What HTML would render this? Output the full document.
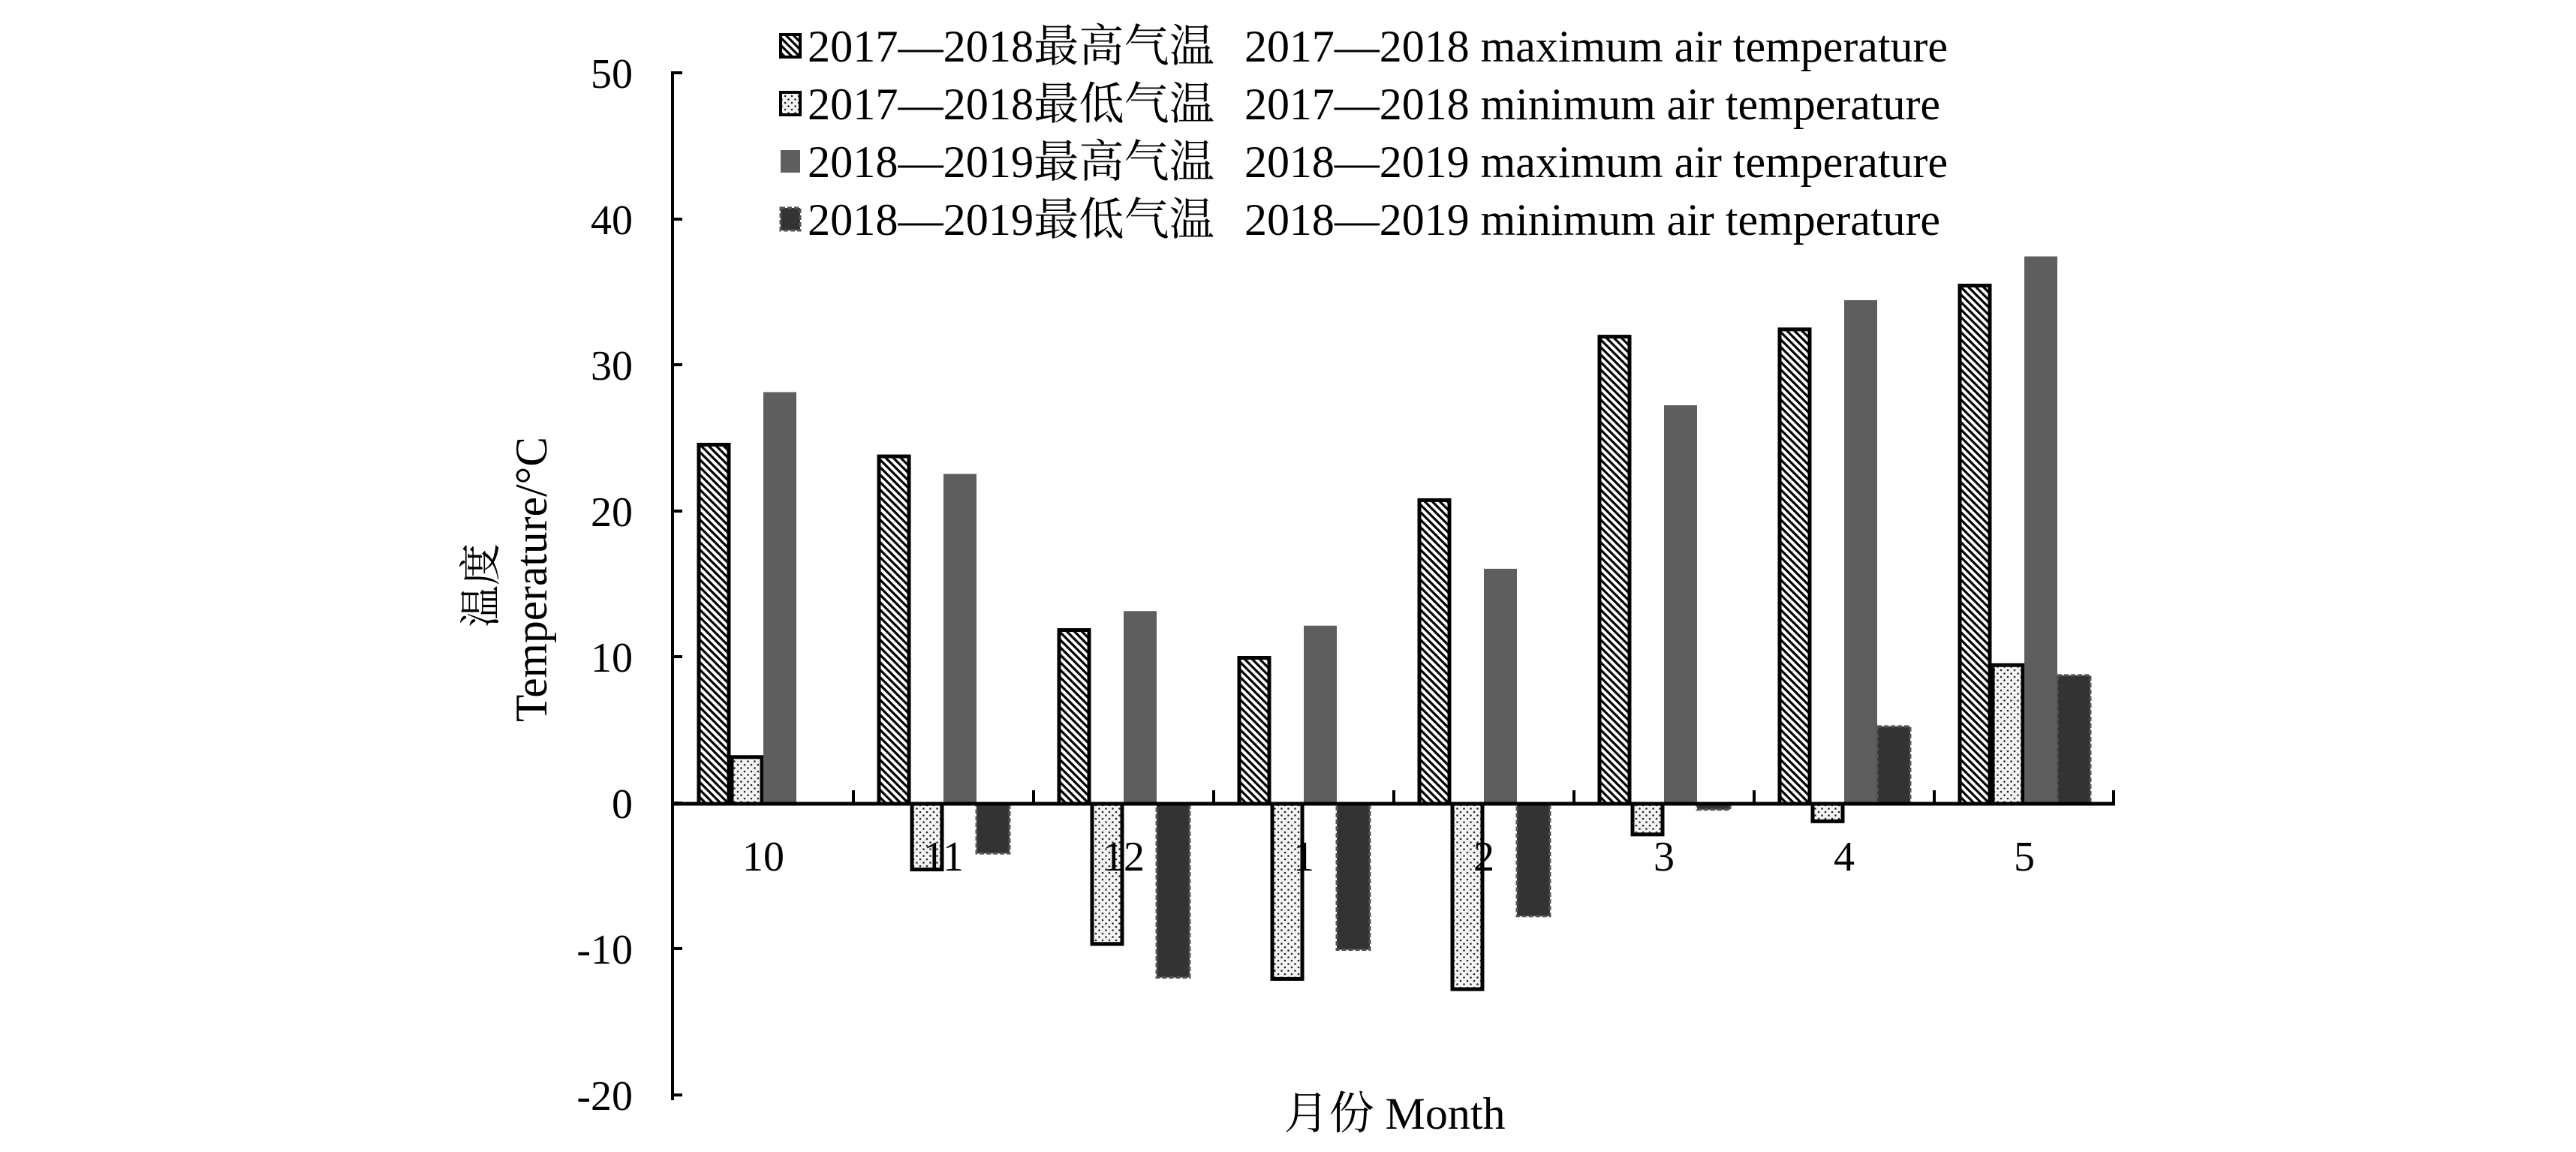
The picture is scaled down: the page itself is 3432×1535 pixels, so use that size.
<!DOCTYPE html>
<html><head><meta charset="utf-8"><style>html,body{margin:0;padding:0;background:#fff}svg{display:block}</style></head>
<body>
<svg width="3432" height="1535" viewBox="0 0 3432 1535" xmlns="http://www.w3.org/2000/svg" font-family="'Liberation Serif','Noto Serif CJK SC',serif">
<defs>
<pattern id="hatch" patternUnits="userSpaceOnUse" width="10" height="10">
<rect width="10" height="10" fill="#fff"/>
<path d="M-2,-2 L12,12 M-2,8 L2,12 M8,-2 L12,2" stroke="#000" stroke-width="3.2"/>
</pattern>
<pattern id="dots" patternUnits="userSpaceOnUse" width="9" height="9">
<rect width="9" height="9" fill="#f4f4f4"/>
<circle cx="2" cy="2" r="1.3" fill="#222"/>
<circle cx="6.5" cy="6.5" r="1.3" fill="#222"/>
</pattern>
</defs>
<rect width="3432" height="1535" fill="#fff"/>
<g id="bars"></g>
<!-- axes -->
<line x1="896" y1="95" x2="896" y2="1466" stroke="#000" stroke-width="4"/>
<g stroke="#000" stroke-width="4">
<line x1="896" y1="97" x2="909" y2="97"/>
<line x1="896" y1="292" x2="909" y2="292"/>
<line x1="896" y1="486" x2="909" y2="486"/>
<line x1="896" y1="681" x2="909" y2="681"/>
<line x1="896" y1="875" x2="909" y2="875"/>
<line x1="896" y1="1070" x2="909" y2="1070"/>
<line x1="896" y1="1264" x2="909" y2="1264"/>
<line x1="896" y1="1459" x2="909" y2="1459"/>
<line x1="896" y1="1071" x2="2818" y2="1071" stroke-width="5"/>
<line x1="1137" y1="1071" x2="1137" y2="1053"/>
<line x1="1377" y1="1071" x2="1377" y2="1053"/>
<line x1="1617" y1="1071" x2="1617" y2="1053"/>
<line x1="1857" y1="1071" x2="1857" y2="1053"/>
<line x1="2097" y1="1071" x2="2097" y2="1053"/>
<line x1="2337" y1="1071" x2="2337" y2="1053"/>
<line x1="2577" y1="1071" x2="2577" y2="1053"/>
<line x1="2816" y1="1071" x2="2816" y2="1053"/>
</g>
<g font-size="56" text-anchor="end" fill="#000">
<text x="843" y="117">50</text>
<text x="843" y="312">40</text>
<text x="843" y="506">30</text>
<text x="843" y="701">20</text>
<text x="843" y="895">10</text>
<text x="843" y="1090">0</text>
<text x="843" y="1284">-10</text>
<text x="843" y="1479">-20</text>
</g>
<g font-size="56" text-anchor="middle" fill="#000">
<text x="1017" y="1160">10</text>
<text x="1257" y="1160">11</text>
<text x="1497" y="1160">12</text>
<text x="1737" y="1160">1</text>
<text x="1977" y="1160">2</text>
<text x="2217" y="1160">3</text>
<text x="2457" y="1160">4</text>
<text x="2697" y="1160">5</text>
</g>
<text x="1858" y="1504" font-size="60" text-anchor="middle">月份 Month</text>
<text transform="translate(660,780) rotate(-90)" font-size="56" text-anchor="middle">温度</text>
<text transform="translate(728,772) rotate(-90)" font-size="60" text-anchor="middle" textLength="380" lengthAdjust="spacingAndGlyphs">Temperature/°C</text>
<!-- legend -->
<g font-size="60">
<rect x="1040" y="46" width="26" height="30" fill="url(#hatch)" stroke="#000" stroke-width="4"/>
<text x="1076" y="82" textLength="542" lengthAdjust="spacingAndGlyphs">2017—2018最高气温</text>
<text x="1658" y="82" textLength="937" lengthAdjust="spacingAndGlyphs">2017—2018 maximum air temperature</text>
<rect x="1040" y="123" width="26" height="30" fill="url(#dots)" stroke="#000" stroke-width="4"/>
<text x="1076" y="159" textLength="542" lengthAdjust="spacingAndGlyphs">2017—2018最低气温</text>
<text x="1658" y="159" textLength="927" lengthAdjust="spacingAndGlyphs">2017—2018 minimum air temperature</text>
<rect x="1040" y="200" width="26" height="30" fill="#5e5e5e"/>
<text x="1076" y="236" textLength="542" lengthAdjust="spacingAndGlyphs">2018—2019最高气温</text>
<text x="1658" y="236" textLength="937" lengthAdjust="spacingAndGlyphs">2018—2019 maximum air temperature</text>
<rect x="1040" y="277" width="26" height="30" fill="#333" stroke="#555" stroke-width="3" stroke-dasharray="6,3"/>
<text x="1076" y="313" textLength="542" lengthAdjust="spacingAndGlyphs">2018—2019最低气温</text>
<text x="1658" y="313" textLength="927" lengthAdjust="spacingAndGlyphs">2018—2019 minimum air temperature</text>
</g>
<g id="b">
</g>
<script>
(function(){
var d=[[24.6,3.2,28.2,0],[23.8,-4.5,22.6,-3.4],[11.9,-9.6,13.2,-11.9],[10.0,-12.0,12.2,-10.0],[20.8,-12.7,16.1,-7.7],[32.0,-2.1,27.3,-0.4],[32.5,-1.2,34.5,5.3],[35.5,9.5,37.5,8.8]];
var ns="http://www.w3.org/2000/svg",g=document.getElementById("bars");
var z=1071,s=19.45;
for(var i=0;i<8;i++){for(var k=0;k<4;k++){var v=d[i][k];if(v===0)continue;
var x=897+i*240+32+k*44,y=v>0?z-v*s:z,h=Math.abs(v)*s;
var r=document.createElementNS(ns,"rect");
r.setAttribute("x",x+(k<2?2:0));r.setAttribute("y",y);r.setAttribute("width",k<2?40:44);r.setAttribute("height",h);
if(k==0){r.setAttribute("fill","url(#hatch)");r.setAttribute("stroke","#000");r.setAttribute("stroke-width","5");}
else if(k==1){r.setAttribute("fill","url(#dots)");r.setAttribute("stroke","#000");r.setAttribute("stroke-width","5");}
else if(k==2){r.setAttribute("fill","#5e5e5e");}
else{r.setAttribute("fill","#333");r.setAttribute("stroke","#555");r.setAttribute("stroke-width","3");r.setAttribute("stroke-dasharray","6,3");}
g.appendChild(r);}}
})();
</script>
</svg>
</body></html>
